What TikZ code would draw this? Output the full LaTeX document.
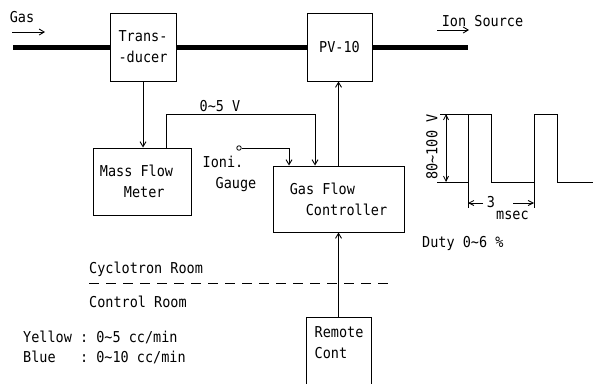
\documentclass[tikz,border=0pt]{standalone}
\usepackage{fontspec}
\setmonofont{DejaVu Sans Mono}[FakeStretch=0.9]
\usetikzlibrary{positioning,arrows.meta,calc}

\begin{document}
\begin{tikzpicture}[
  x=1pt,y=-1pt,
  every node/.style={font=\ttfamily\fontsize{15}{21}\selectfont,inner sep=0pt},
  unit/.style={draw,line width=1pt,align=center},
  pipe/.style={line width=5pt},
  sig/.style={line width=0.9pt,-{Straight Barb[length=5pt,width=6pt]}},
  wave/.style={line width=0.9pt},
  dimline/.style={line width=0.8pt,-{Straight Barb[length=5pt,width=5pt]}}
]
  \useasboundingbox (0,0) rectangle (593,383);
  \clip (0,0) rectangle (593,383);

  % ガスライン上の機器
  \node[unit,minimum width=66,minimum height=68] (trans) at (143,47) {Trans-\\-ducer};
  \node[unit,minimum width=65,minimum height=68] (pv) at (339.5,47) {PV-10};
  \node[unit,minimum width=98,minimum height=67,align=left] (mfm) at (142,181.5)
    {Mass Flow\hspace*{11pt}\\\hspace*{24pt}Meter};
  \node[unit,minimum width=131,minimum height=66,align=left] (gfc) at (338.5,199)
    {Gas Flow\\\hspace*{16pt}Controller};
  \node[unit,minimum width=65,minimum height=80] (remote) at (338.5,357) {};
  \node[anchor=north west,align=left] (remotetxt)
    at ([shift={(9,10)}]remote.north west) {Remote\\Cont};

  % ガス配管
  \coordinate (gasin) at (13,47);
  \coordinate (ionout) at (468,47);
  \draw[pipe] (gasin) -- (trans.west);
  \draw[pipe] (trans.east) -- (pv.west);
  \draw[pipe] (pv.east) -- (ionout);

  \node[anchor=base] (gas) at (22,22) {Gas};
  \coordinate (gasA) at (12,32);
  \draw[sig] (gasA) -- ++(33,0);
  \node[anchor=base] (ion) at (482.5,26) {Ion Source};
  \coordinate (ionA) at (437,30);
  \draw[sig] (ionA) -- ++(32,0);

  % 信号線
  \draw[sig] (trans.south) -- (trans.south |- mfm.north);
  \draw[sig] ([xshift=24pt]mfm.north) -- ++(0,-33) -| ([xshift=-23.5pt]gfc.north);
  \node[anchor=base] (v05) at (220,111) {0\textasciitilde5 V};
  \node[draw,circle,minimum size=4.5pt,line width=0.8pt] (gauge) at (239,148) {};
  \draw[sig] (gauge.east) -| ([xshift=-49.5pt]gfc.north);
  \node[anchor=base] (ioni) at (223,167) {Ioni.};
  \node[anchor=base] (gaugetxt) at (236,188) {Gauge};
  \draw[sig] (gfc.north) -- (gfc.north |- pv.south);
  \draw[sig] (remote.north) -- (gfc.south);

  % 部屋の境界
  \node[anchor=base west] (cyc) at (89,273) {Cyclotron Room};
  \coordinate (wallL) at (89,283);
  \coordinate (wallR) at (395,283);
  \draw[line width=0.9pt,dash pattern=on 10pt off 7pt] (wallL) -- (wallR);
  \node[anchor=base west] (ctl) at (89,307) {Control Room};

  % 流量レンジ
  \node[anchor=base west] (yellow) at (23,342) {Yellow : 0\textasciitilde5 cc/min};
  \node[anchor=base west] (blue) at (23,362) {Blue\ \ \ : 0\textasciitilde10 cc/min};

  % パルス波形
  \draw[wave] (437,182) -- (468,182) -- (468,114) -- (491,114) -- (491,182)
    -- (534,182) -- (534,114) -- (557,114) -- (557,182) -- (593,182);
  \draw[wave] (440,114) -- (468,114);
  \coordinate (vtop) at (446,114);
  \coordinate (vbot) at (446,182);
  \draw[dimline,{Straight Barb[length=5pt,width=5pt]}-{Straight Barb[length=5pt,width=5pt]}]
    (vtop) -- (vbot);
  \node[rotate=90] (amp) at (432,147) {80\textasciitilde100 V};

  \coordinate (tickL) at (468,203);
  \coordinate (tickR) at (534,203);
  \draw[wave] (468,182) -- (468,208);
  \draw[wave] (534,182) -- (534,208);
  \node (three) at (491,202) {3};
  \node[anchor=west] (msec) at (496,215) {msec};
  \draw[dimline] (483,203) -- (tickL);
  \draw[dimline] (513,203) -- (tickR);

  \node[anchor=base west] (duty) at (422,247) {Duty 0\textasciitilde6 \%};
\end{tikzpicture}
\end{document}
